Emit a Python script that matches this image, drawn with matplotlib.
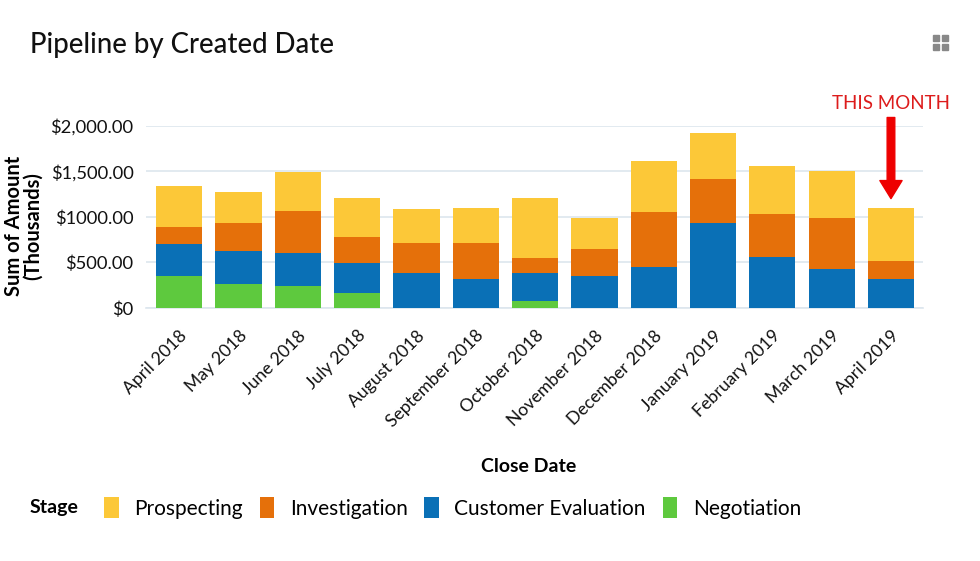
import matplotlib
matplotlib.use("Agg")
import matplotlib.pyplot as plt
from matplotlib.patches import Rectangle
import numpy as np

plt.rcParams['font.family'] = ['Lato', 'DejaVu Sans']

months = ["April 2018", "May 2018", "June 2018", "July 2018", "August 2018",
          "September 2018", "October 2018", "November 2018", "December 2018",
          "January 2019", "February 2019", "March 2019", "April 2019"]
negotiation = [350, 261, 245, 169, 0, 0, 82, 0, 0, 0, 0, 0, 0]
customer_eval = [352, 365, 358, 321, 380, 316, 306, 353, 455, 931, 557, 424, 316]
investigation = [188, 310, 462, 285, 330, 397, 161, 292, 598, 482, 477, 558, 203]
prospecting = [447, 337, 431, 434, 374, 389, 660, 337, 556, 504, 525, 518, 583]

stages = ["Prospecting", "Investigation", "Customer Evaluation", "Negotiation"]
colors = {"Prospecting": "#FCC838", "Investigation": "#E5700A",
          "Customer Evaluation": "#0A70B6", "Negotiation": "#5EC93E"}
yticks = [0, 500, 1000, 1500, 2000]
ytick_labels = ["$0", "$500.00", "$1000.00", "$1,500.00", "$2,000.00"]

fig = plt.figure(figsize=(9.8, 5.61), dpi=100)
ax = fig.add_axes([146/980, 1-308/561, (923-146)/980, (308-125.7)/561])

x = np.arange(len(months))
series = {"Negotiation": negotiation, "Customer Evaluation": customer_eval,
          "Investigation": investigation, "Prospecting": prospecting}
bottom = np.zeros(len(months))
handles = {}
for name in ["Negotiation", "Customer Evaluation", "Investigation", "Prospecting"]:
    vals = np.array(series[name], dtype=float)
    b = ax.bar(x, vals, bottom=bottom, width=0.78, color=colors[name], label=name, zorder=3)
    handles[name] = b
    bottom += vals

ax.set_xlim(-0.56, len(months) - 1 + 0.54)
ax.set_ylim(0, 2000)
ax.set_yticks(yticks)
ax.set_yticklabels(ytick_labels, fontsize=13.2, color="#111111")
ax.set_xticks(x)
ax.set_xticklabels(months, rotation=45, ha="right", rotation_mode="anchor", fontsize=12.7, color="#111111")
ax.tick_params(axis="y", length=0, pad=9)
ax.tick_params(axis="x", length=0, pad=14)
ax.grid(axis="y", color="#dde6ee", linewidth=1.2, zorder=0)
for s in ["top", "right", "left"]:
    ax.spines[s].set_visible(False)
ax.spines["bottom"].set_color("#dde6ee")
ax.spines["bottom"].set_linewidth(1.2)

ax.set_ylabel("Sum of Amount\n(Thousands)", fontsize=14.5, fontweight="bold", linespacing=0.9)
ax.yaxis.set_label_coords(-0.133, 0.45)
fig.text(529/980, 1-466/561, "Close Date", ha="center", va="center", fontsize=14, fontweight="bold")

fig.text(30/980, 1-45/561, "Pipeline by Created Date", ha="left", va="center",
         fontsize=19.8, fontweight="medium", color="#111111")

# Legend
fig.text(30/980, 1-507/561, "Stage", ha="left", va="center", fontsize=14, fontweight="bold")
leg = fig.legend([handles[s] for s in stages], stages, loc="center left",
                 bbox_to_anchor=(104/980, 1-508/561), ncol=4, frameon=False,
                 fontsize=15, handlelength=0.7, handleheight=1.15, handletextpad=0.75,
                 columnspacing=0.8, borderaxespad=0, borderpad=0)

# THIS MONTH annotation
last = len(months) - 1
ax.annotate("", xy=(last, 1200), xytext=(last, 2090),
            xycoords="data", textcoords="data",
            arrowprops=dict(facecolor="#ee0000", edgecolor="#ee0000", width=5.5, headwidth=16, headlength=13),
            annotation_clip=False)
ax.text(last, 2145, "THIS MONTH", ha="center", va="bottom", fontsize=13.5, color="#dd1c1c", clip_on=False)

# expand icon
for dx, dy in [(0, 0), (9, 0), (0, 9), (9, 9)]:
    fig.add_artist(Rectangle(((933 + dx)/980, 1-(50 - dy)/561), 6/980, 6/561,
                             transform=fig.transFigure, color="#888888"))

fig.savefig("out.png", dpi=100)
